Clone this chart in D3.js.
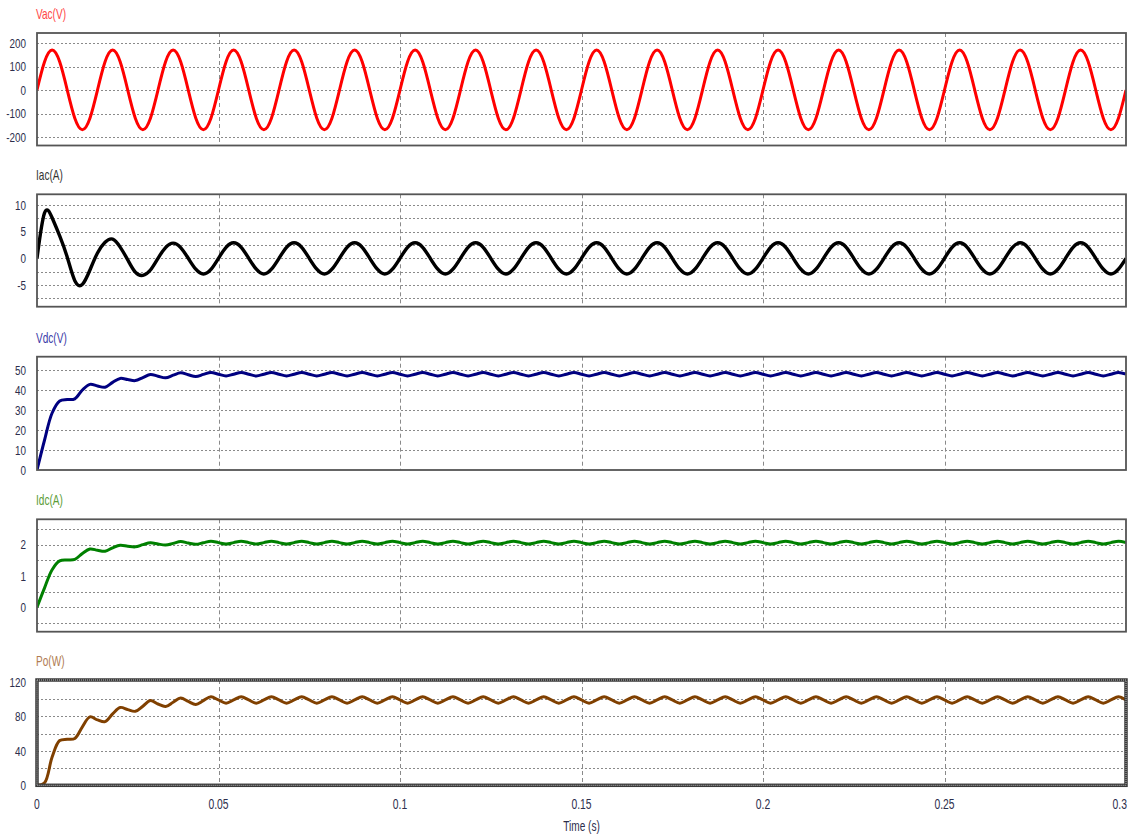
<!DOCTYPE html>
<html>
<head>
<meta charset="utf-8">
<script src="https://cdn.jsdelivr.net/npm/d3@7"></script>
<style>
body { margin: 0; background: #fff; }
text { font-family: "Liberation Sans", Arial, sans-serif; }
</style>
</head>
<body>
<div id="viz"></div>
<script>
// waveforms sampled at 480 samples/s (8 samples per 60 Hz cycle), t = 0 .. 0.3 s
const sampleRate = 480;

const timeTicks = [0, 0.05, 0.1, 0.15, 0.2, 0.25, 0.3];
const timeLabels = ['0', '0.05', '0.1', '0.15', '0.2', '0.25', '0.3'];

const vac = [
    0, 120, 170, 120, 0, -120, -169, -120,
    0, 120, 170, 120, 0, -120, -169, -120,
    0, 120, 170, 120, 0, -120, -169, -120,
    0, 120, 170, 120, 0, -120, -169, -120,
    0, 120, 170, 120, 0, -120, -169, -120,
    0, 120, 170, 120, 0, -120, -169, -120,
    0, 120, 170, 120, 0, -120, -169, -120,
    0, 120, 170, 120, 0, -120, -169, -120,
    0, 120, 170, 120, 0, -120, -169, -120,
    0, 120, 170, 120, 0, -120, -169, -120,
    0, 120, 170, 120, 0, -120, -169, -120,
    0, 120, 170, 120, 0, -120, -169, -120,
    0, 120, 170, 120, 0, -120, -169, -120,
    0, 120, 170, 120, 0, -120, -169, -120,
    0, 120, 170, 120, 0, -120, -169, -120,
    0, 120, 170, 120, 0, -120, -169, -120,
    0, 120, 170, 120, 0, -120, -169, -120,
    0, 120, 170, 120, 0, -120, -169, -120,
    0
];

const iac = [
    0, 8.5, 7.6, 4.2, 0.2, -4.2, -4.9, -2.2,
    1.0, 3.0, 3.6, 2.1, -0.3, -2.6, -3.2, -2.2,
    0, 2.0, 2.85, 2.0, 0, -2.05, -2.95, -2.1,
    0, 2.05, 2.9, 2.05, 0, -2.05, -2.95, -2.05,
    0, 2.05, 2.9, 2.05, 0, -2.05, -2.95, -2.05,
    0, 2.05, 2.9, 2.05, 0, -2.05, -2.95, -2.05,
    0, 2.05, 2.9, 2.05, 0, -2.05, -2.95, -2.05,
    0, 2.05, 2.9, 2.05, 0, -2.05, -2.95, -2.05,
    0, 2.05, 2.9, 2.05, 0, -2.05, -2.95, -2.05,
    0, 2.05, 2.9, 2.05, 0, -2.05, -2.95, -2.05,
    0, 2.05, 2.9, 2.05, 0, -2.05, -2.95, -2.05,
    0, 2.05, 2.9, 2.05, 0, -2.05, -2.95, -2.05,
    0, 2.05, 2.9, 2.05, 0, -2.05, -2.95, -2.05,
    0, 2.05, 2.9, 2.05, 0, -2.05, -2.95, -2.05,
    0, 2.05, 2.9, 2.05, 0, -2.05, -2.95, -2.05,
    0, 2.05, 2.9, 2.05, 0, -2.05, -2.95, -2.05,
    0, 2.05, 2.9, 2.05, 0, -2.05, -2.95, -2.05,
    0, 2.05, 2.9, 2.05, 0, -2.05, -2.95, -2.05,
    0
];

const vdc = [
    0, 15, 28.5, 34.5, 35.2, 35.6, 40, 42.8,
    42.0, 41.4, 43.8, 45.8, 45.2, 44.7, 46.2, 47.8,
    46.9, 46.1, 47.4, 48.6, 47.6, 46.7, 47.8, 48.8,
    47.9, 47.0, 47.9, 48.8, 47.9, 47.0, 47.9, 48.8,
    47.9, 47.0, 47.9, 48.8, 47.9, 47.0, 47.9, 48.8,
    47.9, 47.0, 47.9, 48.8, 47.9, 47.0, 47.9, 48.8,
    47.9, 47.0, 47.9, 48.8, 47.9, 47.0, 47.9, 48.8,
    47.9, 47.0, 47.9, 48.8, 47.9, 47.0, 47.9, 48.8,
    47.9, 47.0, 47.9, 48.8, 47.9, 47.0, 47.9, 48.8,
    47.9, 47.0, 47.9, 48.8, 47.9, 47.0, 47.9, 48.8,
    47.9, 47.0, 47.9, 48.8, 47.9, 47.0, 47.9, 48.8,
    47.9, 47.0, 47.9, 48.8, 47.9, 47.0, 47.9, 48.8,
    47.9, 47.0, 47.9, 48.8, 47.9, 47.0, 47.9, 48.8,
    47.9, 47.0, 47.9, 48.8, 47.9, 47.0, 47.9, 48.8,
    47.9, 47.0, 47.9, 48.8, 47.9, 47.0, 47.9, 48.8,
    47.9, 47.0, 47.9, 48.8, 47.9, 47.0, 47.9, 48.8,
    47.9, 47.0, 47.9, 48.8, 47.9, 47.0, 47.9, 48.8,
    47.9, 47.0, 47.9, 48.8, 47.9, 47.0, 47.9, 48.8,
    47.9
];

const idc = [
    0, 0.62, 1.2, 1.48, 1.51, 1.53, 1.72, 1.86,
    1.82, 1.79, 1.9, 1.98, 1.95, 1.93, 2.0, 2.06,
    2.02, 1.99, 2.04, 2.1, 2.05, 2.01, 2.06, 2.11,
    2.065, 2.02, 2.065, 2.11, 2.065, 2.02, 2.065, 2.11,
    2.065, 2.02, 2.065, 2.11, 2.065, 2.02, 2.065, 2.11,
    2.065, 2.02, 2.065, 2.11, 2.065, 2.02, 2.065, 2.11,
    2.065, 2.02, 2.065, 2.11, 2.065, 2.02, 2.065, 2.11,
    2.065, 2.02, 2.065, 2.11, 2.065, 2.02, 2.065, 2.11,
    2.065, 2.02, 2.065, 2.11, 2.065, 2.02, 2.065, 2.11,
    2.065, 2.02, 2.065, 2.11, 2.065, 2.02, 2.065, 2.11,
    2.065, 2.02, 2.065, 2.11, 2.065, 2.02, 2.065, 2.11,
    2.065, 2.02, 2.065, 2.11, 2.065, 2.02, 2.065, 2.11,
    2.065, 2.02, 2.065, 2.11, 2.065, 2.02, 2.065, 2.11,
    2.065, 2.02, 2.065, 2.11, 2.065, 2.02, 2.065, 2.11,
    2.065, 2.02, 2.065, 2.11, 2.065, 2.02, 2.065, 2.11,
    2.065, 2.02, 2.065, 2.11, 2.065, 2.02, 2.065, 2.11,
    2.065, 2.02, 2.065, 2.11, 2.065, 2.02, 2.065, 2.11,
    2.065, 2.02, 2.065, 2.11, 2.065, 2.02, 2.065, 2.11,
    2.065
];

const po = [
    0, 3, 33, 52, 53.5, 54.5, 68, 79.5,
    76, 74, 83, 90.5, 88, 86, 92, 98.5,
    94.5, 91.5, 96.5, 101.5, 97.5, 94, 98.5, 102.8,
    99.2, 95.5, 99.2, 103, 99.2, 95.5, 99.2, 103,
    99.2, 95.5, 99.2, 103, 99.2, 95.5, 99.2, 103,
    99.2, 95.5, 99.2, 103, 99.2, 95.5, 99.2, 103,
    99.2, 95.5, 99.2, 103, 99.2, 95.5, 99.2, 103,
    99.2, 95.5, 99.2, 103, 99.2, 95.5, 99.2, 103,
    99.2, 95.5, 99.2, 103, 99.2, 95.5, 99.2, 103,
    99.2, 95.5, 99.2, 103, 99.2, 95.5, 99.2, 103,
    99.2, 95.5, 99.2, 103, 99.2, 95.5, 99.2, 103,
    99.2, 95.5, 99.2, 103, 99.2, 95.5, 99.2, 103,
    99.2, 95.5, 99.2, 103, 99.2, 95.5, 99.2, 103,
    99.2, 95.5, 99.2, 103, 99.2, 95.5, 99.2, 103,
    99.2, 95.5, 99.2, 103, 99.2, 95.5, 99.2, 103,
    99.2, 95.5, 99.2, 103, 99.2, 95.5, 99.2, 103,
    99.2, 95.5, 99.2, 103, 99.2, 95.5, 99.2, 103,
    99.2, 95.5, 99.2, 103, 99.2, 95.5, 99.2, 103,
    99.2
];

// tick labels and grid levels of each panel
const vacTicks = [200, 100, 0, -100, -200];
const vacGrid = [200, 100, 0, -100, -200];
const iacTicks = [10, 5, 0, -5];
const iacGrid = [10, 7.5, 5, 2.5, 0, -2.5, -5, -7.5];
const vdcTicks = [50, 40, 30, 20, 10, 0];
const vdcGrid = [50, 40, 30, 20, 10];
const idcTicks = [2, 1, 0];
const idcGrid = [2.5, 2, 1.5, 1, 0.5, 0, -0.5];
const poTicks = [120, 80, 40, 0];
const poGrid = [100, 80, 60, 40, 20];

const width = 1136, height = 840;
const left = 37, right = 1126;
const smooth = d3.curveCatmullRom.alpha(0.5);

const panels = [
    { title: 'Vac(V)', data: vac, ticks: vacTicks, grid: vacGrid, line: '#ff0000', label: '#ff4545',
      top: 33, bottom: 145.5, domain: [-236, 242.5], curve: d3.curveNatural, stroke: 3 },
    { title: 'Iac(A)', data: iac, ticks: iacTicks, grid: iacGrid, line: '#000000', label: '#333333',
      top: 194.3, bottom: 306.7, domain: [-9.08, 12.0], curve: d3.curveNatural, stroke: 3.4 },
    { title: 'Vdc(V)', data: vdc, ticks: vdcTicks, grid: vdcGrid, line: '#000080', label: '#3b3ba8',
      top: 356.7, bottom: 470, domain: [0, 56.65], curve: smooth, stroke: 3 },
    { title: 'Idc(A)', data: idc, ticks: idcTicks, grid: idcGrid, line: '#008000', label: '#5a9c35',
      top: 519.3, bottom: 631.7, domain: [-0.78, 2.81], curve: smooth, stroke: 3 },
    { title: 'Po(W)', data: po, ticks: poTicks, grid: poGrid, line: '#804000', label: '#b07c52',
      top: 680, bottom: 785.3, domain: [0, 122.4], curve: smooth, stroke: 3, selected: true }
];

let xScale = d3.scaleLinear()
                .domain([0, 0.3])
                .range([left, right]);

const svg = d3.select('#viz')
    .append('svg')
    .attr('width', width)
    .attr('height', height)
    .style('background', '#ffffff');

// the original uses a narrow font; squeeze the glyphs horizontally
function narrow(sel, x, y, sx) {
    return sel.attr('transform', (d, i) => {
        const xx = typeof x === 'function' ? x(d, i) : x;
        const yy = typeof y === 'function' ? y(d, i) : y;
        return `translate(${xx},${yy}) scale(${sx},1)`;
    });
}

panels.forEach((p, k) => {
    let yScale = d3.scaleLinear()
                    .domain(p.domain)
                    .range([p.bottom, p.top]);

    const g = svg.append('g');

    g.append('clipPath')
        .attr('id', 'clip' + k)
    .append('rect')
        .attr('x', left)
        .attr('y', p.top)
        .attr('width', right - left)
        .attr('height', p.bottom - p.top);

    // horizontal dotted grid
    g.selectAll('.hgrid').data(p.grid)
        .enter()
        .append('line')
        .attr('x1', left)
        .attr('x2', right)
        .attr('y1', d => Math.round(yScale(d)) + 0.5)
        .attr('y2', d => Math.round(yScale(d)) + 0.5)
        .attr('stroke', '#8a8a8a')
        .attr('stroke-width', 1)
        .attr('stroke-dasharray', '2,2');

    // vertical dashed grid
    g.selectAll('.vgrid').data(timeTicks.slice(1, -1))
        .enter()
        .append('line')
        .attr('x1', d => Math.round(xScale(d)) + 0.5)
        .attr('x2', d => Math.round(xScale(d)) + 0.5)
        .attr('y1', p.top)
        .attr('y2', p.bottom)
        .attr('stroke', '#8a8a8a')
        .attr('stroke-width', 1)
        .attr('stroke-dasharray', '4,3');

    const line = d3.line()
        .x((d, i) => xScale(i / sampleRate))
        .y(d => yScale(d))
        .curve(p.curve);

    g.append('path')
        .datum(p.data)
        .attr('d', line)
        .attr('fill', 'none')
        .attr('stroke', p.line)
        .attr('stroke-width', p.stroke)
        .attr('stroke-linejoin', 'round')
        .attr('clip-path', 'url(#clip' + k + ')');

    // frame
    if (p.selected) {
        g.append('rect')
            .attr('x', left)
            .attr('y', p.top)
            .attr('width', right - left)
            .attr('height', p.bottom - p.top)
            .attr('fill', 'none')
            .attr('stroke', '#3a3a3a')
            .attr('stroke-width', 3.5);
        g.append('rect')
            .attr('x', left)
            .attr('y', p.top)
            .attr('width', right - left)
            .attr('height', p.bottom - p.top)
            .attr('fill', 'none')
            .attr('stroke', '#bdbdbd')
            .attr('stroke-width', 1)
            .attr('stroke-dasharray', '1,1');
    } else {
        g.append('rect')
            .attr('x', left)
            .attr('y', p.top)
            .attr('width', right - left)
            .attr('height', p.bottom - p.top)
            .attr('fill', 'none')
            .attr('stroke', '#555555')
            .attr('stroke-width', 1.8);
    }

    g.selectAll('.tick').data(p.ticks)
        .enter()
        .append('text')
        .call(narrow, 26, d => yScale(d), 0.76)
        .attr('dy', '0.36em')
        .attr('text-anchor', 'end')
        .attr('font-size', 13)
        .attr('fill', '#2c2e4c')
        .text(d => d);

    g.append('text')
        .call(narrow, 36, p.top - 14, 0.72)
        .attr('font-size', 14)
        .attr('fill', p.label)
        .text(p.title);
});

// time axis
svg.selectAll('.xlabel').data(timeTicks)
    .enter()
    .append('text')
    .call(narrow, (d, i) => i === timeTicks.length - 1 ? right + 1 : xScale(d), 809, 0.74)
    .attr('text-anchor', (d, i) => i === timeTicks.length - 1 ? 'end' : 'middle')
    .attr('font-size', 14)
    .attr('fill', '#2c2e4c')
    .text((d, i) => timeLabels[i]);

svg.append('text')
    .call(narrow, (left + right) / 2, 831, 0.72)
    .attr('text-anchor', 'middle')
    .attr('font-size', 14)
    .attr('fill', '#2c2e4c')
    .text('Time (s)');
</script>
</body>
</html>
